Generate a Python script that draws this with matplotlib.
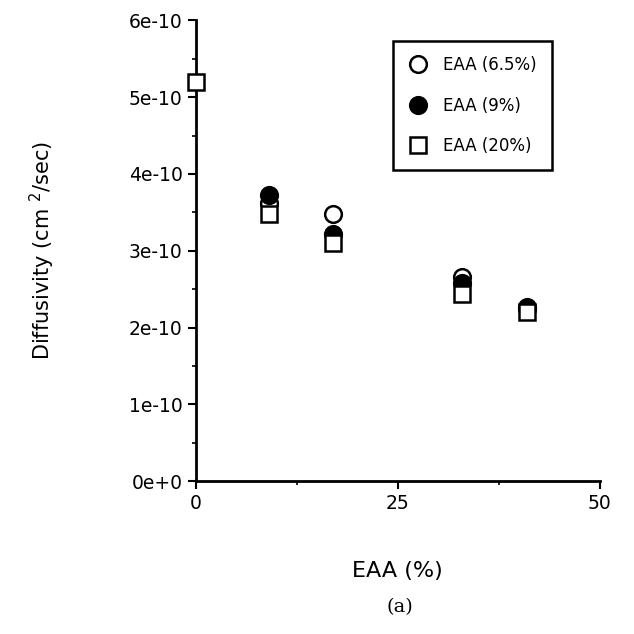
import numpy as np
import matplotlib
matplotlib.use("Agg")
import matplotlib.pyplot as plt
import matplotlib.ticker as plticker

# EAA content (%) and diffusivity (cm^2/sec) per series
eaa_65 = [9, 17, 33, 41]
diff_65 = [3.62e-10, 3.48e-10, 2.66e-10, 2.27e-10]

eaa_9 = [9, 17, 33, 41]
diff_9 = [3.72e-10, 3.22e-10, 2.58e-10, 2.24e-10]

eaa_20 = [0, 9, 17, 33, 41]
diff_20 = [5.2e-10, 3.48e-10, 3.10e-10, 2.44e-10, 2.20e-10]

labels = ["EAA (6.5%)", "EAA (9%)", "EAA (20%)"]
x_ticks = [0, 25, 50]
y_ticks = [0, 1e-10, 2e-10, 3e-10, 4e-10, 5e-10, 6e-10]
y_ticklabels = ["0e+0", "1e-10", "2e-10", "3e-10", "4e-10", "5e-10", "6e-10"]

fig = plt.figure(figsize=(6.34, 6.34), dpi=100)
ax = fig.add_axes([0.309, 0.241, 0.637, 0.727])

ms = 12
ax.plot(eaa_65, diff_65, "o", ms=ms, mfc="white", mec="k", mew=1.8, label=labels[0], zorder=2)
ax.plot(eaa_9, diff_9, "o", ms=ms, mfc="k", mec="k", mew=1.8, label=labels[1], zorder=3)
ax.plot(eaa_20, diff_20, "s", ms=ms, mfc="white", mec="k", mew=1.8, label=labels[2], zorder=4)

ax.set_xlim(0, 50)
ax.set_ylim(0, 6e-10)
ax.set_xticks(x_ticks)
ax.set_yticks(y_ticks)
ax.set_yticklabels(y_ticklabels)
ax.xaxis.set_minor_locator(plticker.MultipleLocator(12.5))
ax.yaxis.set_minor_locator(plticker.MultipleLocator(0.5e-10))
ax.tick_params(which="major", direction="out", length=6, width=1.5, labelsize=13.5)
ax.tick_params(which="minor", direction="out", length=3, width=1.2)
for side in ["top", "right"]:
    ax.spines[side].set_visible(False)
for side in ["left", "bottom"]:
    ax.spines[side].set_linewidth(2)
for line in ax.lines:
    line.set_clip_on(False)

ax.set_xlabel("EAA (%)", fontsize=16, labelpad=34)
ax.set_ylabel("Diffusivity (cm $^{2}$/sec)", fontsize=15, labelpad=52)

leg = ax.legend(loc="upper right", bbox_to_anchor=(0.902, 0.973), fontsize=12,
                frameon=True, fancybox=False, edgecolor="k", labelspacing=1.35,
                borderpad=0.9, handletextpad=0.9, handlelength=1.2)
leg.get_frame().set_linewidth(1.8)
leg.get_frame().set_alpha(1)

fig.text(0.63, 0.035, "(a)", ha="center", fontsize=14, family="DejaVu Serif")

plt.savefig("out.png", dpi=100)
